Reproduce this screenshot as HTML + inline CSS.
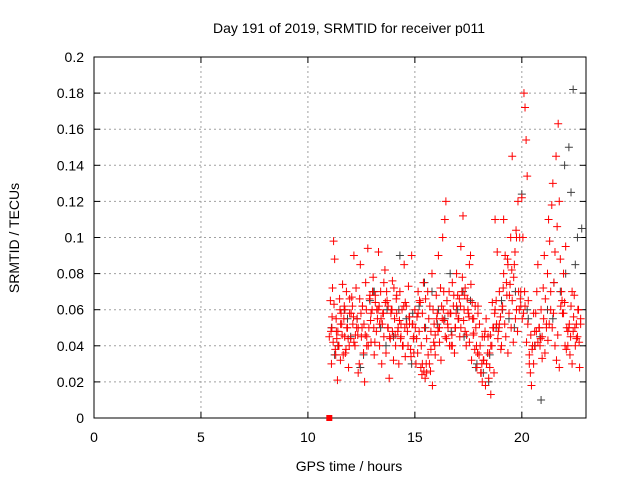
<!DOCTYPE html>
<html><head><meta charset="utf-8"><style>
body{margin:0;background:#fff}
svg{display:block;font-family:"Liberation Sans",sans-serif}
</style></head><body>
<svg id="chart" width="640" height="480">
<rect x="0" y="0" width="640" height="480" fill="#fff"/>
<g id="grid"></g>
<g id="axes"></g>
<g id="gray"></g>
<g id="red"></g>
<text x="349" y="33" font-size="14" text-anchor="middle">Day 191 of 2019, SRMTID for receiver p011</text>
<text x="349" y="471" font-size="14" text-anchor="middle">GPS time / hours</text>
<text transform="translate(19,238) rotate(-90)" font-size="14" text-anchor="middle">SRMTID / TECUs</text>
</svg>
<script>
const xTicks=[0,5,10,15,20];
const yTicks=[0,0.02,0.04,0.06,0.08,0.1,0.12,0.14,0.16,0.18,0.2];
const yTickLabels=["0","0.02","0.04","0.06","0.08","0.1","0.12","0.14","0.16","0.18","0.2"];
const redTimes=[11.0,11.05,11.1,11.12,11.18,11.2,11.25,11.3,11.32,11.38,11.4,11.45,11.5,11.52,11.58,11.6,11.65,11.7,11.72,11.78,11.8,11.85,11.9,11.95,12.0,12.05,12.1,12.15,12.2,12.25,12.3,12.35,12.4,12.45,12.5,12.55,12.6,12.65,12.7,12.75,12.8,12.85,12.9,12.95,13.0,13.05,13.1,13.15,13.2,13.25,13.3,13.35,13.4,13.45,13.5,13.55,13.6,13.65,13.7,13.75,13.8,13.85,13.9,13.95,14.0,14.05,14.1,14.15,14.2,14.25,14.3,14.35,14.4,14.45,14.5,14.55,14.6,14.65,14.7,14.75,14.8,14.85,14.9,14.95,15.0,15.05,15.1,15.15,15.2,15.25,15.3,15.35,15.4,15.45,15.5,15.55,15.6,15.65,15.7,15.75,15.8,15.85,15.9,15.95,16.0,16.05,16.1,16.15,16.2,16.25,16.3,16.35,16.4,16.45,16.5,16.55,16.6,16.65,16.7,16.75,16.8,16.85,16.9,16.95,17.0,17.05,17.1,17.15,17.2,17.25,17.3,17.35,17.4,17.45,17.5,17.55,17.6,17.65,17.7,17.75,17.8,17.85,17.9,17.95,18.0,18.05,18.1,18.15,18.2,18.25,18.3,18.35,18.4,18.45,18.5,18.55,18.6,18.65,18.7,18.75,18.8,18.85,18.9,18.95,19.0,19.05,19.1,19.15,19.2,19.25,19.3,19.35,19.4,19.45,19.5,19.55,19.6,19.65,19.7,19.75,19.8,19.85,19.9,19.95,20.0,20.05,20.1,20.15,20.2,20.25,20.3,20.35,20.4,20.45,20.5,20.55,20.6,20.65,20.7,20.75,20.8,20.85,20.9,20.95,21.0,21.05,21.1,21.15,21.2,21.25,21.3,21.35,21.4,21.45,21.5,21.55,21.6,21.65,21.7,21.75,21.8,21.85,21.9,21.95,22.0,22.05,22.1,22.15,22.2,22.25,22.3,22.35,22.4,22.45,22.5,22.55,22.6,22.65,22.7,22.75,
11.15,11.35,11.55,11.75,11.95,12.15,12.35,12.55,12.75,12.95,13.15,13.35,13.55,13.75,13.95,14.15,14.35,14.55,14.75,14.95,15.15,15.35,15.55,15.75,15.95,16.15,16.35,16.55,16.75,16.95,17.15,17.35,17.55,17.75,17.95,18.15,18.35,18.55,18.75,18.95,19.15,19.35,19.55,19.75,19.95,20.15,20.35,20.55,20.75,20.95,21.15,21.35,21.55,21.75,21.95,22.15,22.35,22.55,22.75,
11.22,11.42,11.62,11.82,12.02,12.22,12.42,12.62,12.82,13.02,13.22,13.42,13.62,13.82,14.02,14.22,14.42,14.62,14.82,15.02,15.22,15.42,15.62,15.82,16.02,16.22,16.42,16.62,16.82,17.02,17.22,17.42,17.62,17.82,18.02,18.22,18.42,18.62,18.82,19.02,19.22,19.42,19.62,19.82,20.02,20.22,20.42,20.62,20.82,21.02,21.22,21.42,21.62,21.82,22.02,22.22,22.42,22.62,
11.08,11.28,11.48,11.68,11.88,12.08,12.28,12.48,12.68,12.88,13.08,13.28,13.48,13.68,13.88,14.08,14.28,14.48,14.68,14.88,15.08,15.28,15.48,15.68,15.88,16.08,16.28,16.48,16.68,16.88,17.08,17.28,17.48,17.68,17.88,18.08,18.28,18.48,18.68,18.88,19.08,19.28,19.48,19.68,19.88,20.08,20.28,20.48,20.68,20.88,21.08,21.28,21.48,21.68,21.88,22.08,22.28,22.48,22.68,
11.13,11.33,11.53,11.73,11.93,12.13,12.33,12.53,12.73,12.93,13.13,13.33,13.53,13.73,13.93,14.13,14.33,14.53,14.73,14.93,15.13,15.33,15.53,15.73,15.93,16.13,16.33,16.53,16.73,16.93,17.13,17.33,17.53,17.73,17.93,18.13,18.33,18.53,18.73,18.93,19.13,19.33,19.53,19.73,19.93,20.13,20.33,20.53,20.73,20.93,21.13,21.33,21.53,21.73,21.93,22.13,22.33,22.53,22.73];
const redValues=[0.045,0.065,0.03,0.05,0.042,0.098,0.088,0.035,0.055,0.021,0.048,0.04,0.06,0.032,0.052,0.046,0.035,0.062,0.045,0.038,0.07,0.05,0.028,0.058,0.044,0.067,0.052,0.09,0.04,0.072,0.055,0.025,0.03,0.085,0.045,0.062,0.036,0.02,0.075,0.04,0.094,0.05,0.068,0.042,0.06,0.078,0.035,0.064,0.048,0.055,0.092,0.04,0.07,0.03,0.058,0.045,0.082,0.036,0.065,0.05,0.022,0.044,0.06,0.076,0.032,0.055,0.04,0.068,0.048,0.03,0.07,0.052,0.06,0.04,0.085,0.034,0.062,0.048,0.073,0.056,0.038,0.09,0.052,0.045,0.06,0.03,0.056,0.07,0.048,0.064,0.04,0.058,0.075,0.05,0.066,0.044,0.07,0.055,0.062,0.048,0.08,0.06,0.052,0.046,0.068,0.058,0.09,0.05,0.072,0.062,0.1,0.054,0.11,0.12,0.065,0.05,0.07,0.058,0.04,0.075,0.062,0.036,0.05,0.08,0.068,0.055,0.045,0.095,0.07,0.112,0.06,0.048,0.04,0.066,0.058,0.042,0.09,0.032,0.055,0.047,0.038,0.05,0.028,0.062,0.035,0.04,0.025,0.02,0.032,0.045,0.018,0.03,0.036,0.022,0.028,0.013,0.04,0.05,0.025,0.11,0.065,0.092,0.048,0.07,0.056,0.04,0.062,0.08,0.052,0.045,0.068,0.036,0.058,0.074,0.05,0.065,0.042,0.085,0.055,0.06,0.048,0.07,0.1,0.062,0.122,0.1,0.18,0.172,0.154,0.134,0.065,0.035,0.025,0.018,0.04,0.03,0.048,0.058,0.07,0.085,0.05,0.04,0.06,0.045,0.072,0.09,0.066,0.052,0.08,0.11,0.098,0.07,0.118,0.13,0.075,0.092,0.145,0.106,0.163,0.12,0.088,0.07,0.058,0.08,0.064,0.095,0.05,
0.04,0.05,0.035,0.062,0.03,0.048,0.068,0.04,0.052,0.045,0.06,0.028,0.055,0.072,0.044,0.058,0.036,0.066,0.042,0.05,0.062,0.045,0.058,0.068,0.052,0.075,0.062,0.048,0.058,0.045,0.064,0.052,0.036,0.058,0.03,0.025,0.038,0.035,0.042,0.07,0.058,0.04,0.062,0.05,0.072,0.085,0.055,0.058,0.045,0.03,0.04,0.06,0.052,0.11,0.085,0.145,0.1,0.07,0.062,
0.03,0.058,0.042,0.033,0.05,0.06,0.04,0.028,0.058,0.048,0.07,0.044,0.052,0.063,0.04,0.074,0.05,0.058,0.046,0.066,0.052,0.04,0.07,0.06,0.055,0.064,0.045,0.072,0.05,0.04,0.052,0.034,0.05,0.065,0.026,0.035,0.018,0.055,0.032,0.045,0.04,0.068,0.055,0.078,0.046,0.074,0.062,0.052,0.032,0.045,0.064,0.052,0.038,0.09,0.068,0.078,0.12,0.055,
0.042,0.046,0.04,0.05,0.055,0.043,0.05,0.032,0.062,0.04,0.052,0.056,0.06,0.048,0.038,0.066,0.055,0.044,0.062,0.05,0.058,0.046,0.066,0.05,0.06,0.052,0.07,0.058,0.046,0.054,0.062,0.04,0.052,0.044,0.028,0.022,0.03,0.042,0.048,0.055,0.044,0.058,0.05,0.066,0.054,0.06,0.064,0.04,0.025,0.048,0.036,0.05,0.044,0.06,0.075,0.1,0.092,0.06,0.058,
0.052,0.038,0.048,0.044,0.036,0.052,0.058,0.046,0.065,0.038,0.045,0.05,0.042,0.056,0.048,0.052,0.06,0.04,0.056,0.046,0.05,0.06,0.054,0.042,0.062,0.058,0.05,0.06,0.066,0.044,0.05,0.056,0.044,0.036,0.024,0.03,0.026,0.04,0.05,0.06,0.052,0.046,0.058,0.062,0.068,0.056,0.046,0.036,0.03,0.055,0.046,0.058,0.05,0.072,0.088,0.082,0.104,0.066,0.07];
const grayTimes=[11.1,11.4,11.7,12.0,12.3,12.6,12.9,13.1,13.4,13.7,14.0,14.3,14.6,14.9,15.2,15.5,15.8,16.1,16.4,16.7,17.0,17.3,17.6,17.9,18.2,18.5,18.8,19.1,19.4,19.7,20.0,20.3,20.6,20.9,21.2,21.5,21.8,22.0,22.2,22.4,22.6,22.8,11.25,11.85,12.45,13.05,13.65,14.25,14.85,15.45,16.05,16.65,17.25,17.85,18.45,19.05,19.65,20.25,20.85,21.45,22.05,22.3,22.5];
const grayValues=[0.05,0.04,0.06,0.045,0.055,0.035,0.065,0.07,0.05,0.06,0.045,0.09,0.055,0.058,0.062,0.05,0.07,0.06,0.055,0.048,0.06,0.045,0.065,0.03,0.025,0.035,0.05,0.06,0.055,0.07,0.124,0.055,0.04,0.01,0.06,0.075,0.07,0.14,0.15,0.182,0.1,0.105,0.035,0.055,0.028,0.07,0.04,0.06,0.03,0.075,0.052,0.08,0.07,0.028,0.02,0.065,0.05,0.06,0.045,0.055,0.08,0.125,0.085];
const zeroTimes=[11.0];
const zeroValues=[0];
const NS="http://www.w3.org/2000/svg";
const X0=94,X1=586,Y0=418,Y1=57,XMAX=23,YMAX=0.2;
function sx(t){return X0+t/XMAX*(X1-X0);}
function sy(v){return Y0-v/YMAX*(Y0-Y1);}
function mk(tag,attrs,parent){const e=document.createElementNS(NS,tag);for(const k in attrs)e.setAttribute(k,attrs[k]);parent.appendChild(e);return e;}
const grid=document.getElementById('grid'),axes=document.getElementById('axes');
xTicks.forEach(t=>{
  if(t>0){const l=mk('line',{x1:sx(t),x2:sx(t),y1:Y0,y2:Y1,stroke:'#a0a0a0','stroke-dasharray':'2,3','stroke-width':1},grid);
  
  }
  mk('line',{x1:sx(t),x2:sx(t),y1:Y0,y2:Y0-6,stroke:'#000'},axes);
  mk('line',{x1:sx(t),x2:sx(t),y1:Y1,y2:Y1+6,stroke:'#000'},axes);
  const tx=mk('text',{x:sx(t),y:Y0+24,'font-size':14,'text-anchor':'middle'},axes);
  tx.textContent=String(t);
  
  
});
yTicks.forEach((v,i)=>{
  if(v>0&&v<YMAX){const l=mk('line',{x1:X0,x2:X1,y1:sy(v),y2:sy(v),stroke:'#a0a0a0','stroke-dasharray':'2,3','stroke-width':1},grid);
  
  }
  mk('line',{x1:X0,x2:X0+6,y1:sy(v),y2:sy(v),stroke:'#000'},axes);
  mk('line',{x1:X1,x2:X1-6,y1:sy(v),y2:sy(v),stroke:'#000'},axes);
  const tx=mk('text',{x:X0-10,y:sy(v)+5,'font-size':14,'text-anchor':'end'},axes);
  tx.textContent=yTickLabels[i];
  
  
});
const frame=mk('rect',{x:X0,y:Y1,width:X1-X0,height:Y0-Y1,fill:'none',stroke:'#000'},axes);


function plus(g,ts,vs,col){
  ts.forEach((t,i)=>{const x=sx(t),y=sy(vs[i]);
    const p=mk('path',{d:`M${x-4},${y}H${x+4}M${x},${y-4}V${y+4}`,stroke:col,'stroke-width':1,fill:'none'},g);
    
    
  });
}
plus(document.getElementById('gray'),grayTimes,grayValues,'#404040');
plus(document.getElementById('red'),redTimes,redValues,'#ff0000');
zeroTimes.forEach((t,i)=>{
  const r=mk('rect',{x:sx(t)-3,y:sy(zeroValues[i])-3,width:6,height:6,fill:'#ff0000'},document.getElementById('red'));
  
  
});
</script>
</body></html>
